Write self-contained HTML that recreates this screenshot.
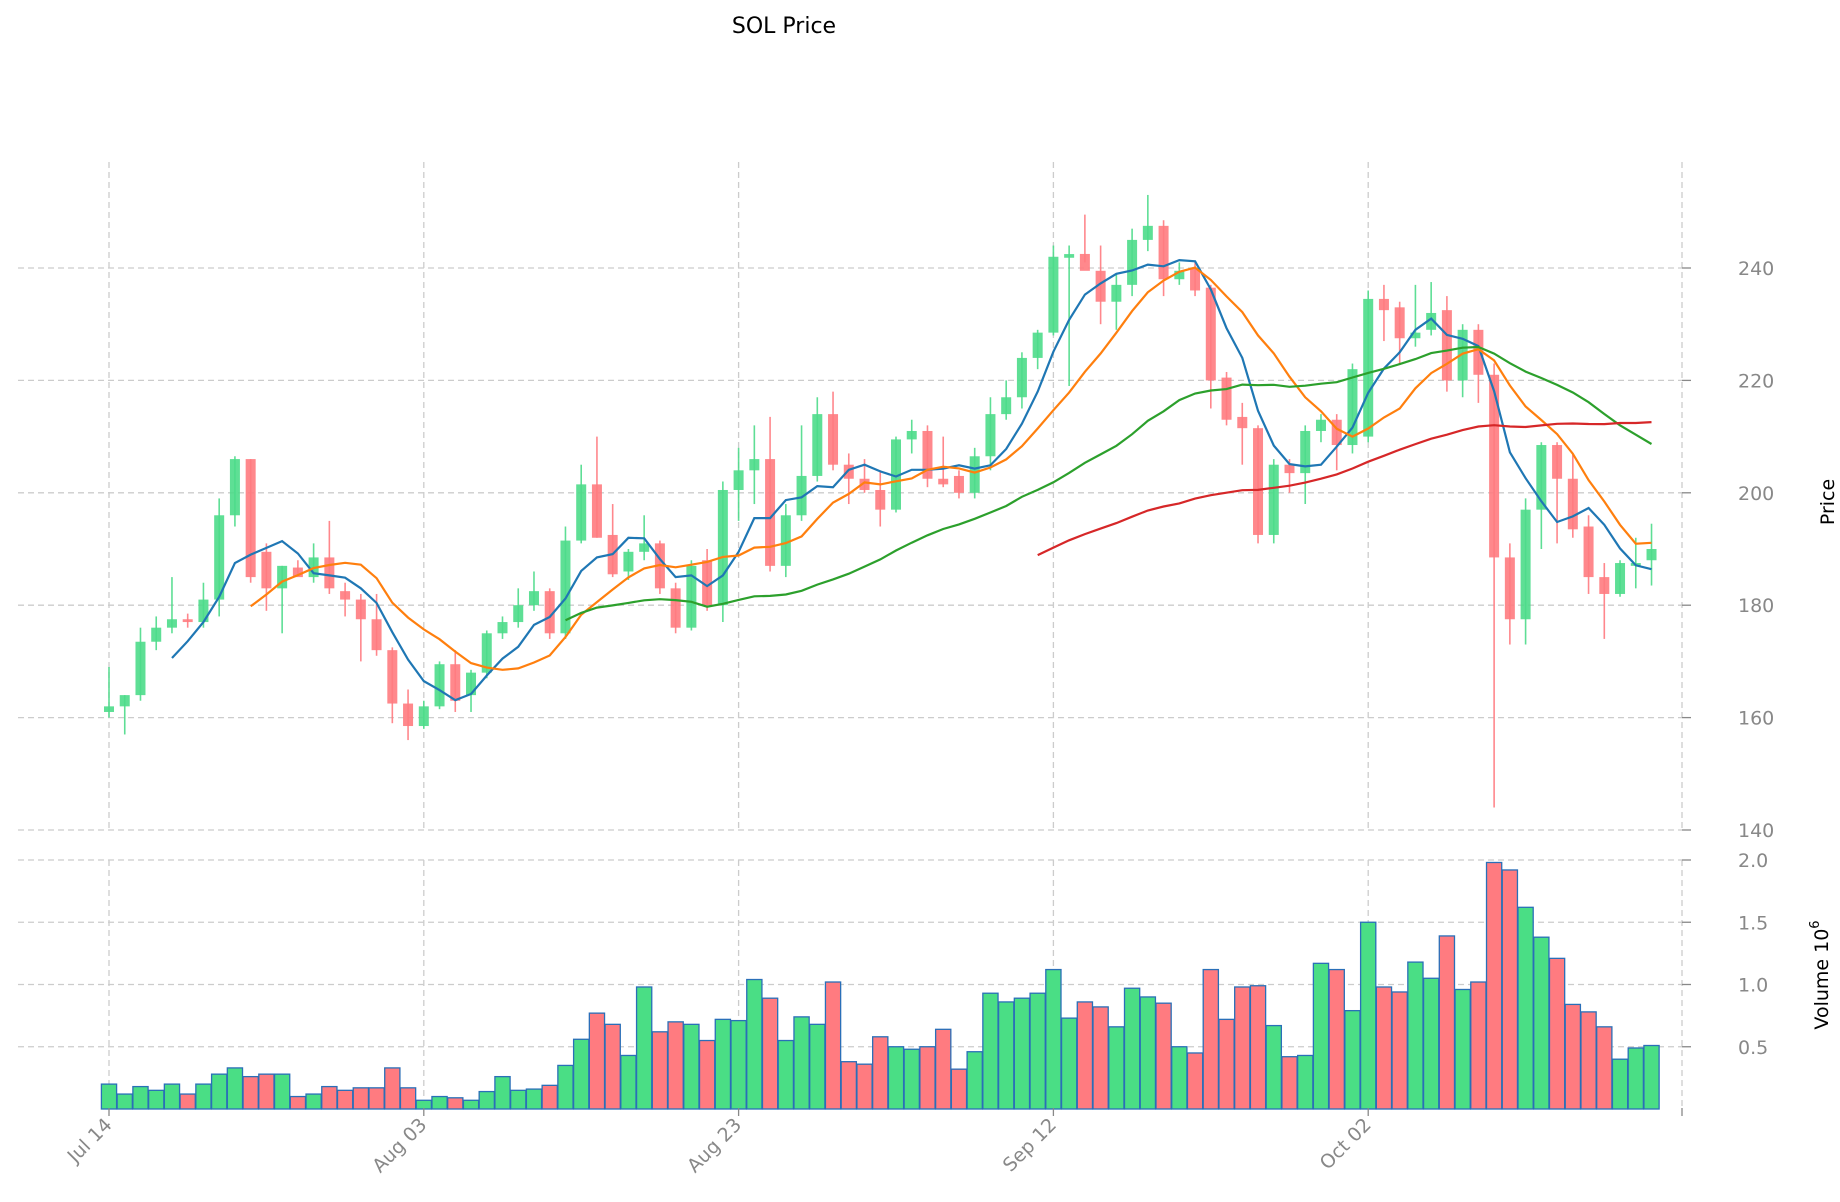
<!DOCTYPE html>
<html><head><meta charset="utf-8"><style>
html,body{margin:0;padding:0;background:#fff;}
svg{display:block;font-family:"DejaVu Sans","Liberation Sans",sans-serif;}
</style></head><body>
<svg id="c" width="1840" height="1202" viewBox="0 0 1840 1202" xmlns="http://www.w3.org/2000/svg">
<rect width="1840" height="1202" fill="#fff"/>
<text x="784" y="33" font-size="22" text-anchor="middle" fill="#000">SOL Price</text>
<g id="grid"></g>
<g id="vol"></g>
<g id="cand"></g>
<g id="ma"></g>
<g id="axes"></g>
<text transform="translate(1834,502) rotate(-90)" font-size="19" text-anchor="middle" fill="#000">Price</text>
<text transform="translate(1828,975) rotate(-90)" font-size="19" text-anchor="middle" fill="#000">Volume  10<tspan dy="-9" font-size="13">6</tspan></text>
</svg>
<script>
var d=[[161,169,160,162],[162,164,157,164],[164,176,163,173.5],[173.5,178,172,176],[176,185,175,177.5],[177.5,178.5,176,177],[177,184,176,181],[181,199,178,196],[196,206.5,194,206],[206,206,184,185],
[189.5,191,179,183],[183,187,175,187],[186.7,188,185.5,185],[185,191,184,188.5],[188.5,195,182,183],[182.5,184,178,181],[181,182,170,177.5],[177.5,182,171,172],[172,172.5,159,162.5],[162.5,165,156,158.5],
[158.5,163,158,162],[162,170,161.5,169.5],[169.5,172,161,163],[164,168.5,161,168],[168,175.5,167,175],[175,178,174,177],[177,183,176,180],[180,186,179,182.5],[182.5,183,174,175],[175,194,174,191.5],
[191.5,205,191,201.5],[201.5,210,192,192],[192.5,198,185,185.5],[186,190,184.5,189.5],[189.5,196,188,191],[191,191.5,182,183],[183,184,175,176],[176,188,175.5,187],[188,190,179,180],[180,202,177,200.5],
[200.5,208,195,204],[204,212,198,206],[206,213.5,186,187],[187,198,185,196],[196,212,195,203],[203,217,202,214],[214,218,204,205],[205,207,198,202.5],[202.5,206,200,200.5],[200.5,204,194,197],
[197,210,196.5,209.5],[209.5,213,207,211],[211,212,201,202.5],[202.5,210,201,201.5],[203,204,199,200],[200,208,199,206.5],[206.5,217,204,214],[214,220,213,217],[217,225,215,224],[224,229,222,228.5],
[228.5,244,228,242],[242,244,219,242.3],[242.5,249.5,241,239.5],[239.5,244,230,234],[234,239,229,237],[237,247,235,245],[245,253,243,247.5],[247.5,248.5,235,238],[238,241,237,239.5],[240,241,235,236],
[236.5,237,215,220],[220.5,221.5,212,213],[213.5,216,205,211.5],[211.5,212,191,192.5],[192.5,206,191,205],[205,206,200,203.5],[203.5,212,198,211],[211,214,209,213],[213,214,204,208.5],[208.5,223,207,222],
[210,236,209,234.5],[234.5,237,227,232.5],[233,234,223,227.5],[227.5,237,226,228.5],[229,237.5,228,232],[232.5,235,218,220],[220,230,217,229],[229,230,216,221],[221,223,144,188.5],[188.5,191,173,177.5],
[177.5,199,173,197],[197,209,190,208.5],[208.5,209,191,202.5],[202.5,207,192,193.5],[194,196,182,185],[185,187.5,174,182],[182,188,181.5,187.5],[187,192,183,187.5],[188,194.5,183.5,190]];
var v=[0.2,0.12,0.18,0.15,0.2,0.12,0.2,0.28,0.33,0.26,0.28,0.28,0.1,0.12,0.18,0.15,0.17,0.17,0.33,0.17,0.07,0.1,0.09,0.07,0.14,0.26,0.15,0.16,0.19,0.35,0.56,0.77,0.68,0.43,0.98,0.62,0.70,0.68,0.55,0.72,0.71,1.04,0.89,0.55,0.74,0.68,1.02,0.38,0.36,0.58,0.50,0.48,0.50,0.64,0.32,0.46,0.93,0.86,0.89,0.93,1.12,0.73,0.86,0.82,0.66,0.97,0.90,0.85,0.50,0.45,1.12,0.72,0.98,0.99,0.67,0.42,0.43,1.17,1.12,0.79,1.50,0.98,0.94,1.18,1.05,1.39,0.96,1.02,1.98,1.92,1.62,1.38,1.21,0.84,0.78,0.66,0.40,0.49,0.51];
var NS="http://www.w3.org/2000/svg";
function el(g,t,a){var e=document.createElementNS(NS,t);for(var k in a)e.setAttribute(k,a[k]);document.getElementById(g).appendChild(e);return e;}
var DX=15.74;
var X=function(i){return 109+DX*i;};
var Y=function(p){return 268+(240-p)*5.62;};
var VY=function(m){return 1109-m*124.5;};
var L=18,R=1682;
[240,220,200,180,160,140].forEach(function(p){var y=Y(p);el("grid","line",{x1:L,x2:R,y1:y,y2:y,stroke:"#ccc","stroke-dasharray":"6,4","stroke-width":1.3});
el("axes","line",{x1:R,x2:R+9,y1:y,y2:y,stroke:"#888","stroke-width":1.3});
var t=el("axes","text",{x:1738,y:y+7,"font-size":19,fill:"#888"});t.textContent=p;});
[2.0,1.5,1.0,0.5].forEach(function(m){var y=VY(m);el("grid","line",{x1:L,x2:R,y1:y,y2:y,stroke:"#ccc","stroke-dasharray":"6,4","stroke-width":1.3});
el("axes","line",{x1:R,x2:R+9,y1:y,y2:y,stroke:"#888","stroke-width":1.3});
var t=el("axes","text",{x:1738,y:y+7,"font-size":19,fill:"#888"});t.textContent=m.toFixed(1);});
var labs=["Jul 14","Aug 03","Aug 23","Sep 12","Oct 02",""];
for(var k=0;k<6;k++){var x=109+DX*20*k;if(k==5)x=R;
el("grid","line",{x1:x,x2:x,y1:162,y2:830,stroke:"#ccc","stroke-dasharray":"6,4","stroke-width":1.3});
el("grid","line",{x1:x,x2:x,y1:860,y2:1106,stroke:"#ccc","stroke-dasharray":"6,4","stroke-width":1.3});
el("axes","line",{x1:x,x2:x,y1:1108,y2:1116,stroke:"#888","stroke-width":1.3});
if(labs[k]){var t=el("axes","text",{transform:"translate("+(x+4)+",1126) rotate(-45)","font-size":19,fill:"#888","text-anchor":"end"});t.textContent=labs[k];}}
var G="#4ddb8a",Rd="#ff7b80";
d.forEach(function(c,i){var up=c[3]>=c[0],col=up?G:Rd,x=X(i);
el("vol","rect",{x:x-7.6,y:VY(v[i]),width:15.2,height:1109-VY(v[i]),fill:up?"#4ade85":"#ff7b80",stroke:"#2a6fb8","stroke-width":1.3});
el("cand","line",{x1:x,x2:x,y1:Y(c[1]),y2:Y(c[2]),stroke:col,"stroke-width":1.6,opacity:0.9});
var t=Y(Math.max(c[0],c[3])),b=Y(Math.min(c[0],c[3]));if(b-t<2){t-=1;b+=1;}
el("cand","rect",{x:x-5,y:t,width:10,height:b-t,fill:col,opacity:0.9});});
function ma(n,col){var pts=[];for(var i=n-1;i<d.length;i++){var s=0;for(var j=i-n+1;j<=i;j++)s+=d[j][3];pts.push(X(i).toFixed(1)+","+Y(s/n).toFixed(1));}
el("ma","polyline",{points:pts.join(" "),fill:"none",stroke:col,"stroke-width":2.2});}
ma(5,"#1f77b4");ma(10,"#ff7f0e");ma(30,"#2ca02c");ma(60,"#d62728");
</script>
</body></html>
